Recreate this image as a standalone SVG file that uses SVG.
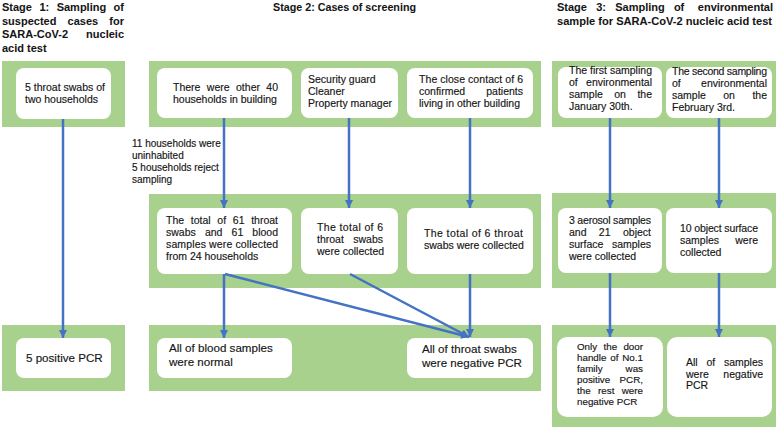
<svg xmlns="http://www.w3.org/2000/svg" width="778" height="428" viewBox="0 0 778 428">
<defs>
<style>
.panel{fill:#A9D18E}
.box{fill:#fff}
text{font-family:"Liberation Sans",Arial,sans-serif;fill:#151515;stroke:#151515;stroke-width:0.15}
.h{font-size:11px;font-weight:bold;stroke-width:0.05}
.t{font-size:10.5px}
.s{font-size:9.8px}
.n{font-size:10px}
.b{font-size:11.6px}
.m{text-anchor:middle}
.e{text-anchor:end}
.arr{stroke:#4472C4;stroke-width:2.5;fill:none;marker-end:url(#ah)}
</style>
<marker id="ah" markerUnits="userSpaceOnUse" markerWidth="9" markerHeight="9" refX="8" refY="4.5" orient="auto" viewBox="0 0 9 9">
<path d="M0,0.5 L8,4.5 L0,8.5 z" fill="#4472C4"/>
</marker>
</defs>
<rect width="778" height="428" fill="#fff"/>

<g id="headings">
<text class="h" x="2" y="11">Stage</text><text class="h m" x="44.3" y="11">1:</text><text class="h m" x="81.4" y="11">Sampling</text><text class="h e" x="124" y="11">of</text>
<text class="h" x="2" y="24.5">suspected</text><text class="h m" x="82.9" y="24.5">cases</text><text class="h e" x="124" y="24.5">for</text>
<text class="h" x="2" y="38">SARA-CoV-2</text><text class="h e" x="124" y="38">nucleic</text>
<text class="h" x="2" y="51.5">acid test</text>
<text class="h" x="273" y="11" textLength="143" lengthAdjust="spacingAndGlyphs">Stage 2: Cases of screening</text>
<text class="h" x="557" y="11">Stage</text><text class="h m" x="601.1" y="11">3:</text><text class="h m" x="640" y="11">Sampling</text><text class="h m" x="679.1" y="11">of</text><text class="h e" x="773" y="11">environmental</text>
<text class="h" x="557" y="24.5" textLength="215" lengthAdjust="spacingAndGlyphs">sample for SARA-CoV-2 nucleic acid test</text>
</g>

<g id="panels">
<rect class="panel" x="2" y="61" width="123" height="66"/>
<rect class="panel" x="149" y="61" width="392" height="66"/>
<rect class="panel" x="552" y="61" width="224" height="66"/>
<rect class="panel" x="149" y="194" width="392" height="94"/>
<rect class="panel" x="552" y="193" width="224" height="95"/>
<rect class="panel" x="2" y="325" width="123" height="66"/>
<rect class="panel" x="149" y="325" width="392" height="66"/>
<rect class="panel" x="552" y="325" width="224" height="102"/>
</g>

<g id="n-s1-top">
<rect class="box" x="16" y="68" width="95" height="51" rx="8"/>
<text class="t" x="25" y="91">5 throat swabs of</text>
<text class="t" x="25" y="103">two households</text>
</g>

<g id="n-s2-top1">
<rect class="box" x="157" y="68" width="135" height="50" rx="8"/>
<text class="t" x="173" y="91">There</text><text class="t m" x="218.2" y="91">were</text><text class="t m" x="248" y="91">other</text><text class="t e" x="278" y="91">40</text>
<text class="t" x="173" y="103">households in building</text>
</g>

<g id="n-s2-top2">
<rect class="box" x="301" y="68" width="97" height="50" rx="8"/>
<text class="t" x="308" y="83">Security guard</text>
<text class="t" x="308" y="95">Cleaner</text>
<text class="t" x="308" y="107">Property manager</text>
</g>

<g id="n-s2-top3">
<rect class="box" x="407" y="68" width="126" height="50" rx="8"/>
<text class="t" x="419" y="83" textLength="104" lengthAdjust="spacing">The close contact of 6</text>
<text class="t" x="419" y="95">confirmed</text><text class="t e" x="523" y="95">patients</text>
<text class="t" x="419" y="107">living in other building</text>
</g>

<g id="n-s3-top1">
<rect class="box" x="558" y="67" width="104" height="51" rx="8"/>
<text class="t" x="569" y="74" textLength="83" lengthAdjust="spacing">The first sampling</text>
<text class="t" x="569" y="86">of</text><text class="t e" x="652" y="86">environmental</text>
<text class="t" x="569" y="98">sample</text><text class="t m" x="620.1" y="98">on</text><text class="t e" x="652" y="98">the</text>
<text class="t" x="569" y="110">January 30th.</text>
</g>

<g id="n-s3-top2">
<rect class="box" x="666" y="67" width="106" height="51" rx="8"/>
<text class="t" x="672" y="75" textLength="95" lengthAdjust="spacing">The second sampling</text>
<text class="t" x="672" y="87">of</text><text class="t e" x="767" y="87">environmental</text>
<text class="t" x="672" y="99">sample</text><text class="t m" x="729" y="99">on</text><text class="t e" x="767" y="99">the</text>
<text class="t" x="672" y="111">February 3rd.</text>
</g>

<g id="note">
<text class="n" x="132" y="147">11 households were</text>
<text class="n" x="132" y="159">uninhabited</text>
<text class="n" x="132" y="171">5 households reject</text>
<text class="n" x="132" y="183">sampling</text>
</g>

<g id="n-s2-mid1">
<rect class="box" x="157" y="208" width="135" height="66" rx="8"/>
<text class="t" x="166" y="224">The</text><text class="t m" x="200.7" y="224">total</text><text class="t m" x="221.7" y="224">of</text><text class="t m" x="238.7" y="224">61</text><text class="t e" x="278" y="224">throat</text>
<text class="t" x="166" y="236">swabs</text><text class="t m" x="213.7" y="236">and</text><text class="t m" x="237.4" y="236">61</text><text class="t e" x="278" y="236">blood</text>
<text class="t" x="166" y="248" textLength="112" lengthAdjust="spacing">samples were collected</text>
<text class="t" x="166" y="260">from 24 households</text>
</g>

<g id="n-s2-mid2">
<rect class="box" x="301" y="208" width="97" height="66" rx="8"/>
<text class="t" x="317" y="231" textLength="66" lengthAdjust="spacing">The total of 6</text>
<text class="t" x="317" y="243">throat</text><text class="t e" x="383" y="243">swabs</text>
<text class="t" x="317" y="255">were collected</text>
</g>

<g id="n-s2-mid3">
<rect class="box" x="407" y="208" width="126" height="66" rx="8"/>
<text class="t" x="424" y="237" textLength="99" lengthAdjust="spacing">The total of 6 throat</text>
<text class="t" x="424" y="249">swabs were collected</text>
</g>

<g id="n-s3-mid1">
<rect class="box" x="558" y="208" width="104" height="65" rx="8"/>
<text class="t" x="569" y="224" textLength="82" lengthAdjust="spacing">3 aerosol samples</text>
<text class="t" x="569" y="236">and</text><text class="t m" x="604.7" y="236">21</text><text class="t e" x="651" y="236">object</text>
<text class="t" x="569" y="248">surface</text><text class="t e" x="651" y="248">samples</text>
<text class="t" x="569" y="260">were collected</text>
</g>

<g id="n-s3-mid2">
<rect class="box" x="666" y="208" width="106" height="65" rx="8"/>
<text class="t" x="680" y="232" textLength="78" lengthAdjust="spacing">10 object surface</text>
<text class="t" x="680" y="244">samples</text><text class="t e" x="758" y="244">were</text>
<text class="t" x="680" y="256">collected</text>
</g>

<g id="n-s1-bot">
<rect class="box" x="16" y="338" width="95" height="40" rx="8"/>
<text class="b" x="26" y="362">5 positive PCR</text>
</g>

<g id="n-s2-bot1">
<rect class="box" x="157" y="338" width="135" height="40" rx="8"/>
<text class="b" x="169" y="352">All of blood samples</text>
<text class="b" x="169" y="365.5">were normal</text>
</g>

<g id="n-s2-bot2">
<rect class="box" x="407" y="338" width="126" height="40" rx="8"/>
<text class="b" x="422" y="353">All of throat swabs</text>
<text class="b" x="422" y="366.5">were negative PCR</text>
</g>

<g id="n-s3-bot1">
<rect class="box" x="557" y="337" width="106" height="80" rx="10"/>
<text class="s" x="577" y="350">Only</text><text class="s m" x="610.3" y="350">the</text><text class="s e" x="643" y="350">door</text>
<text class="s" x="577" y="361">handle</text><text class="s m" x="614.4" y="361">of</text><text class="s e" x="643" y="361">No.1</text>
<text class="s" x="577" y="372">family</text><text class="s e" x="643" y="372">was</text>
<text class="s" x="577" y="383">positive</text><text class="s e" x="643" y="383">PCR,</text>
<text class="s" x="577" y="394">the</text><text class="s m" x="606.2" y="394">rest</text><text class="s e" x="643" y="394">were</text>
<text class="s" x="577" y="405">negative PCR</text>
</g>

<g id="n-s3-bot2">
<rect class="box" x="667" y="337" width="105" height="80" rx="10"/>
<text class="t" x="686" y="366">All</text><text class="t m" x="710.8" y="366">of</text><text class="t e" x="763" y="366">samples</text>
<text class="t" x="686" y="377.5">were</text><text class="t e" x="763" y="377.5">negative</text>
<text class="t" x="686" y="389">PCR</text>
</g>

<g id="connectors">
<line class="arr" x1="63" y1="119" x2="63" y2="338"/>
<line class="arr" x1="224" y1="118" x2="224" y2="208"/>
<line class="arr" x1="349" y1="118" x2="349" y2="208"/>
<line class="arr" x1="470" y1="118" x2="470" y2="208"/>
<line class="arr" x1="610" y1="118" x2="610" y2="208"/>
<line class="arr" x1="719" y1="118" x2="719" y2="208"/>
<line class="arr" x1="224" y1="274" x2="224" y2="338"/>
<line class="arr" x1="470" y1="274" x2="470" y2="337"/>
<line class="arr" x1="225" y1="274" x2="469" y2="337"/>
<line class="arr" x1="350" y1="274" x2="469" y2="337"/>
<line class="arr" x1="610" y1="273" x2="610" y2="337"/>
<line class="arr" x1="719" y1="273" x2="719" y2="337"/>
</g>
</svg>
